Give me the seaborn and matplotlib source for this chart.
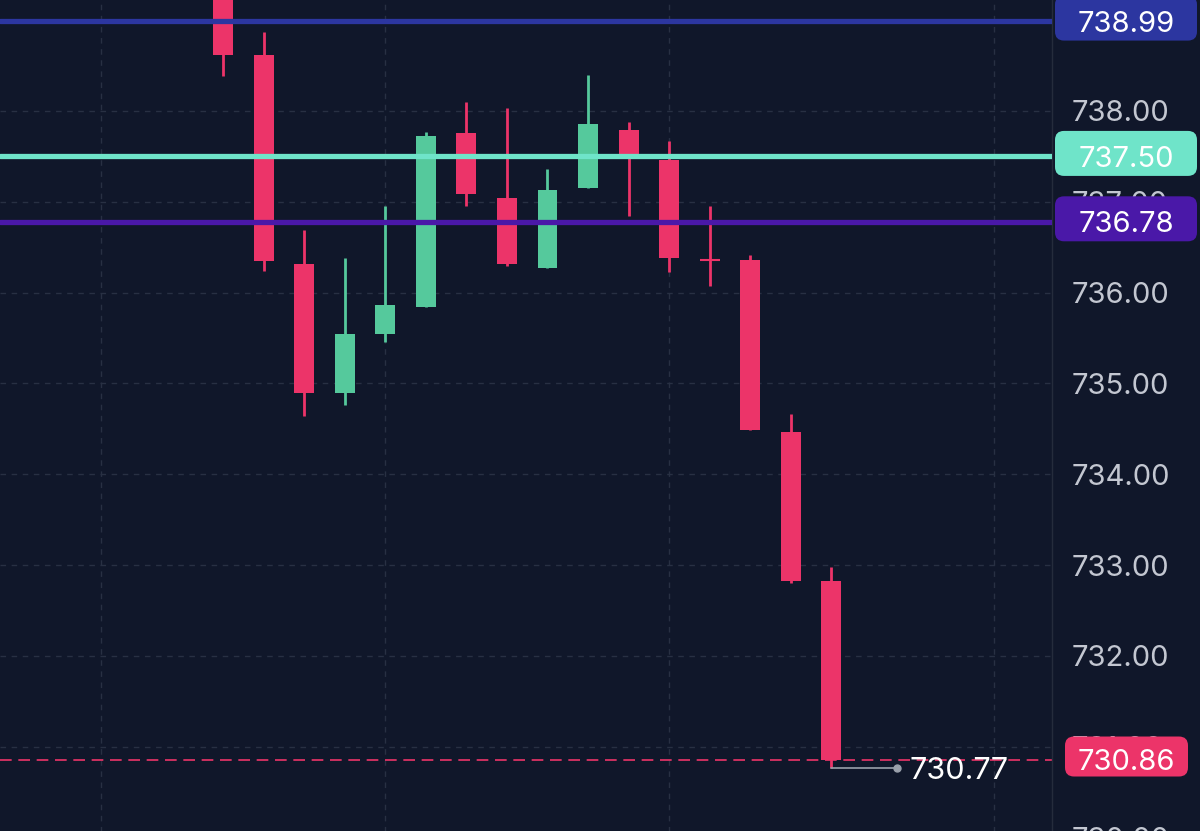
import numpy as np
import pandas as pd
import seaborn as sns
import matplotlib.pyplot as plt
from matplotlib.patches import FancyBboxPatch
from matplotlib.transforms import IdentityTransform

# candle data (oldest -> newest)
opens = [739.60, 738.62, 736.32, 734.89, 735.55, 735.84, 737.76, 737.04,
         736.27, 737.15, 737.79, 737.46, 736.36, 736.36, 734.47, 732.82]
closes = [738.62, 736.35, 734.89, 735.54, 735.86, 737.73, 737.09, 736.31,
          737.13, 737.86, 737.51, 736.38, 736.36, 734.49, 732.82, 730.86]
highs = [739.90, 738.87, 736.69, 736.38, 736.95, 737.77, 738.10, 738.03,
         737.36, 738.40, 737.88, 737.67, 736.95, 736.41, 734.66, 732.98]
lows = [738.39, 736.24, 734.64, 734.76, 735.46, 735.84, 736.95, 736.29,
        736.27, 737.15, 736.84, 736.23, 736.07, 734.49, 732.80, 730.77]

# price levels drawn across the chart
level_values = [738.99, 737.50, 736.78]
level_colors = ['#2c36a0', '#6fe4c9', '#4a18a8']
level_text_colors = ['white', 'white', 'white']
last_price = 730.86
low_label = '730.77'
y_ticks = [730, 731, 732, 733, 734, 735, 736, 737, 738, 739]
y_tick_labels = ['730.00', '731.00', '732.00', '733.00', '734.00',
                 '735.00', '736.00', '737.00', '738.00', '']
x_grid = [-3, 4, 11, 19]

BG = '#10172a'
RED = '#ec3469'
GREEN = '#55c99c'
GRID = '#283043'
TICK = '#c3c7d1'

df = pd.DataFrame({'open': opens, 'close': closes, 'high': highs, 'low': lows})
df['idx'] = np.arange(len(df))
df['up'] = df['close'] > df['open']

sns.set_theme(style='dark', rc={'axes.facecolor': BG, 'figure.facecolor': BG})
plt.rcParams['font.family'] = ['Inter', 'DejaVu Sans']

fig = plt.figure(figsize=(12, 8.31), dpi=100)
W, H = 1200, 831
# axes runs a little past the top/bottom of the figure so edge ticks get cut
ax = fig.add_axes([0, -83.1 / H, 1052 / W, (831 + 166.2) / H])
ax.set_facecolor(BG)

# wicks
colors = np.where(df['up'], GREEN, RED)
ax.vlines(df['idx'], df['low'], df['high'], colors=colors, linewidth=2.0, zorder=3)
# bodies
body_bottom = df[['open', 'close']].min(axis=1)
body_height = (df['close'] - df['open']).abs()
ax.bar(df['idx'], body_height, bottom=body_bottom, width=0.49, color=colors,
       linewidth=0, zorder=3)
doji = df[body_height == 0]
ax.hlines(doji['open'], doji['idx'] - 0.245, doji['idx'] + 0.245, colors=RED,
          linewidth=1.5, zorder=3)

# horizontal levels
for v, c in zip(level_values, level_colors):
    ax.axhline(v, color=c, linewidth=3.8, zorder=4)
ax.axhline(last_price, color=RED, linewidth=1.2, linestyle=(0, (7, 4)), zorder=2)

# low marker
last = df.iloc[-1]
ax.plot([last['idx'], last['idx'] + 1.62], [last['low'], last['low']],
        color='#9aa0ab', linewidth=1.2, zorder=3)
ax.plot([last['idx'] + 1.62], [last['low']], 'o', color='#9aa0ab', markersize=5, zorder=3)
ax.text(last['idx'] + 1.92, last['low'], low_label, color='white', fontsize=22,
        ha='left', va='center_baseline', zorder=5)

# axes styling
ax.set_xlim(-5.50, 20.44)
ax.set_ylim(729.158, 740.137)
ax.set_yticks(y_ticks)
ax.set_yticklabels(y_tick_labels)
ax.yaxis.tick_right()
ax.tick_params(axis='y', length=0, pad=14, labelsize=21, labelcolor=TICK)
ax.set_xticks(x_grid)
ax.tick_params(axis='x', length=0, labelbottom=False)
ax.grid(True, color=GRID, linewidth=1.0, linestyle=(0, (4, 4)))
for side in ['top', 'bottom', 'left']:
    ax.spines[side].set_visible(False)
ax.spines['right'].set_color('#252c3c')
ax.spines['right'].set_linewidth(1.0)

# price label boxes on the axis
fig.canvas.draw()
boxes = list(zip(level_values, level_colors, level_text_colors))
boxes.append((last_price, RED, 'white'))
for i, (v, c, tc) in enumerate(boxes):
    yd = ax.transData.transform((0, v))[1]
    if i == len(boxes) - 1:
        x0, x1, h = 1065, 1188, 40
    else:
        x0, x1, h = 1055, 1197, 45
    patch = FancyBboxPatch((x0, yd - h / 2 + 3), x1 - x0, h,
                           boxstyle='round,pad=0,rounding_size=9',
                           facecolor=c, edgecolor='none',
                           transform=IdentityTransform(), zorder=6)
    fig.add_artist(patch)
    fig.text((x0 + x1) / 2 / W, yd / H, '%.2f' % v, color=tc, fontsize=21,
             ha='center', va='center_baseline', zorder=7)

fig.savefig('out.png', dpi=100, facecolor=BG)
